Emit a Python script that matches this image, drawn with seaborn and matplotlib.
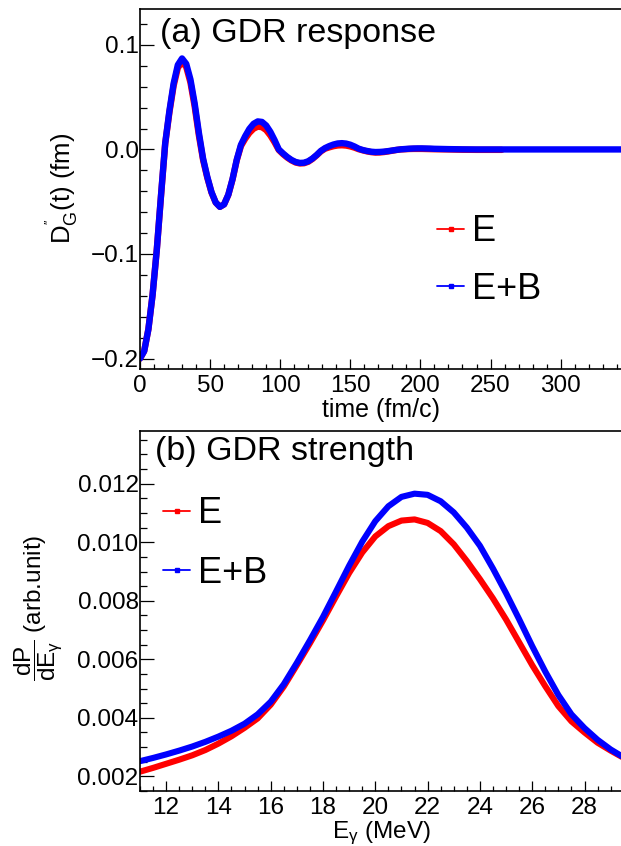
import pandas as pd
import matplotlib
matplotlib.use("Agg")
import matplotlib.pyplot as plt
from matplotlib.lines import Line2D
from matplotlib.ticker import MultipleLocator, FuncFormatter
import seaborn as sns

# (a) GDR response, D''_G(t) in fm, sampled every 3 fm/c
time_EB = list(range(0, 211, 3)) + [220, 230, 240, 260, 300, 345]
dG_EB = [-0.2000, -0.1929, -0.1720, -0.1389, -0.0959, -0.0440, 0.0060, 0.0370,
         0.0631, 0.0808, 0.0870, 0.0818, 0.0669, 0.0440, 0.0160, -0.0087,
         -0.0262, -0.0408, -0.0507, -0.0549, -0.0525, -0.0433, -0.0284, -0.0099,
         0.0044, 0.0126, 0.0196, 0.0245, 0.0268, 0.0263, 0.0229, 0.0168,
         0.0089, 0.0000, -0.0038, -0.0072, -0.0100, -0.0120, -0.0129, -0.0127,
         -0.0113, -0.0087, -0.0053, -0.0014, 0.0013, 0.0032, 0.0047, 0.0057,
         0.0060, 0.0056, 0.0045, 0.0028, 0.0007, -0.0006, -0.0015, -0.0022,
         -0.0025, -0.0024, -0.0021, -0.0016, -0.0010, -0.0004, 0.0001, 0.0004,
         0.0007, 0.0009, 0.0010, 0.0010, 0.0009, 0.0008, 0.0006,
         0.0003, 0.0001, 0.0000, 0.0000, 0.0000, 0.0000]

time_E = list(range(0, 211, 3)) + [220, 230, 240, 258]
dG_E = [-0.2000, -0.1929, -0.1720, -0.1389, -0.0959, -0.0445, 0.0055, 0.0355,
        0.0609, 0.0780, 0.0840, 0.0788, 0.0640, 0.0412, 0.0135, -0.0100,
        -0.0270, -0.0412, -0.0508, -0.0549, -0.0525, -0.0435, -0.0288, -0.0105,
        0.0032, 0.0101, 0.0158, 0.0198, 0.0218, 0.0213, 0.0185, 0.0133,
        0.0068, -0.0006, -0.0045, -0.0078, -0.0105, -0.0125, -0.0134, -0.0132,
        -0.0118, -0.0091, -0.0057, -0.0019, 0.0007, 0.0020, 0.0031, 0.0038,
        0.0040, 0.0037, 0.0029, 0.0017, 0.0002, -0.0009, -0.0019, -0.0026,
        -0.0030, -0.0029, -0.0025, -0.0019, -0.0012, -0.0005, 0.0000, 0.0002,
        0.0004, 0.0005, 0.0005, 0.0005, 0.0004, 0.0003, 0.0002,
        0.0000, -0.0003, -0.0004, -0.0004]

# (b) GDR strength dP/dE_gamma, E_gamma in MeV
egamma = [11.0, 11.5, 12.0, 12.5, 13.0, 13.5, 14.0, 14.5, 15.0, 15.5, 16.0, 16.5,
          17.0, 17.5, 18.0, 18.5, 19.0, 19.5, 20.0, 20.5, 21.0, 21.5, 22.0, 22.5,
          23.0, 23.5, 24.0, 24.5, 25.0, 25.5, 26.0, 26.5, 27.0, 27.5, 28.0, 28.5,
          29.0, 29.5]
strength_E = [0.00216, 0.00229, 0.00243, 0.00257, 0.00272, 0.00290, 0.00312, 0.00337,
              0.00366, 0.00398, 0.00445, 0.00507, 0.00580, 0.00655, 0.00733, 0.00815,
              0.00895, 0.00965, 0.01020, 0.01055, 0.01074, 0.01078, 0.01066, 0.01038,
              0.00993, 0.00936, 0.00874, 0.00808, 0.00736, 0.00658, 0.00580, 0.00508,
              0.00440, 0.00388, 0.00350, 0.00315, 0.00288, 0.00263]
strength_EB = [0.00252, 0.00263, 0.00275, 0.00288, 0.00302, 0.00318, 0.00336, 0.00356,
               0.00380, 0.00412, 0.00455, 0.00515, 0.00588, 0.00665, 0.00745, 0.00832,
               0.00920, 0.01002, 0.01072, 0.01123, 0.01155, 0.01166, 0.01162, 0.01140,
               0.01102, 0.01050, 0.00988, 0.00910, 0.00826, 0.00737, 0.00645, 0.00558,
               0.00478, 0.00412, 0.00365, 0.00325, 0.00292, 0.00265]

labels = ["E", "E+B"]
colors = {"E": "#ff0000", "E+B": "#0000ff"}

sns.set_style("ticks")
plt.rcParams["font.family"] = ["Liberation Sans", "DejaVu Sans"]
plt.rcParams["mathtext.fontset"] = "custom"
plt.rcParams["mathtext.rm"] = "Liberation Sans"
plt.rcParams["mathtext.it"] = "Liberation Sans"
plt.rcParams["mathtext.default"] = "regular"
plt.rcParams["text.color"] = "black"
plt.rcParams["axes.labelcolor"] = "black"
plt.rcParams["xtick.color"] = "black"
plt.rcParams["ytick.color"] = "black"

df_resp = pd.concat([
    pd.DataFrame({"t": time_E, "D": dG_E, "field": "E"}),
    pd.DataFrame({"t": time_EB, "D": dG_EB, "field": "E+B"}),
])
df_str = pd.concat([
    pd.DataFrame({"Eg": egamma, "P": strength_E, "field": "E"}),
    pd.DataFrame({"Eg": egamma, "P": strength_EB, "field": "E+B"}),
])


def minus_fmt(digits):
    def f(v, pos):
        s = f"{v:.{digits}f}"
        if float(s) == 0:
            s = s.lstrip("-")
        return s.replace("-", "\u2212")
    return FuncFormatter(f)


fig = plt.figure(figsize=(6.21, 8.46), dpi=100)
ax1 = fig.add_axes([0.2254, 0.5638, 0.779, 0.4252])
ax2 = fig.add_axes([0.2254, 0.0650, 0.779, 0.4255])

sns.lineplot(data=df_resp, x="t", y="D", hue="field", hue_order=labels, palette=colors,
             estimator=None, sort=False, lw=4.6, legend=False, ax=ax1)
sns.lineplot(data=df_str, x="Eg", y="P", hue="field", hue_order=labels, palette=colors,
             estimator=None, sort=False, lw=4.4, legend=False, ax=ax2)

TICK_FS = 17.5
for ax in (ax1, ax2):
    for s in ax.spines.values():
        s.set_linewidth(1.2)
        s.set_color("black")
    ax.tick_params(which="both", direction="in", top=False, right=False,
                   labelsize=TICK_FS, width=0.9, color="black", labelcolor="black")
    ax.tick_params(axis="x", which="major", length=7.5, pad=4)
    ax.tick_params(axis="x", which="minor", length=3.6)
    ax.tick_params(axis="y", which="major", length=10, pad=1)
    ax.tick_params(axis="y", which="minor", length=5)
    ax.set_xlabel("")
    ax.set_ylabel("")

# panel (a)
ax1.set_xlim(0, 345)
ax1.set_ylim(-0.21, 0.134)
ax1.xaxis.set_major_locator(MultipleLocator(50))
ax1.xaxis.set_minor_locator(MultipleLocator(10))
ax1.yaxis.set_major_locator(MultipleLocator(0.1))
ax1.yaxis.set_minor_locator(MultipleLocator(0.02))
ax1.yaxis.set_major_formatter(minus_fmt(1))
ax1.text(0.041, 0.933, "(a) GDR response", transform=ax1.transAxes,
         fontsize=24.5, ha="left", va="center", color="black")

# panel (b)
ax2.set_xlim(11, 29.5)
ax2.set_ylim(0.0015, 0.0138)
ax2.xaxis.set_major_locator(MultipleLocator(2))
ax2.xaxis.set_minor_locator(MultipleLocator(0.5))
ax2.yaxis.set_major_locator(MultipleLocator(0.002))
ax2.yaxis.set_minor_locator(MultipleLocator(0.0005))
ax2.yaxis.set_major_formatter(minus_fmt(3))
ax2.text(0.031, 0.942, "(b) GDR strength", transform=ax2.transAxes,
         fontsize=24.5, ha="left", va="center", color="black")

# axis titles
fig.text(381 / 621, 1 - 410 / 846, "time (fm/c)", fontsize=18, ha="center", va="center")
fig.text(381 / 621, 1 - 833 / 846, r"$E_{\gamma}$ (MeV)", fontsize=17.5, ha="center", va="center")
fig.text(62 / 621, 1 - 188 / 846, r"$D^{''}_{G}(t)$ (fm)", fontsize=18.5, rotation=90,
         ha="center", va="center")
fig.text(38 / 621, 1 - 608 / 846, r"$\dfrac{dP}{dE_{\gamma}}$ (arb.unit)", fontsize=17.5,
         rotation=90, ha="center", va="center")

# legends
handles = [Line2D([], [], color=colors[k], lw=1.3, marker="s", markersize=3.5) for k in labels]
for ax, anchor, ls in ((ax1, (0.614, 0.43), 0.63), (ax2, (0.048, 0.819), 0.68)):
    leg = ax.legend(handles, labels, loc="upper left", bbox_to_anchor=anchor, frameon=False,
                    fontsize=26, handlelength=0.75, handletextpad=0.22, labelspacing=ls,
                    borderpad=0, borderaxespad=0)
    for txt in leg.get_texts():
        txt.set_color("black")

fig.savefig("out.png", dpi=100)
